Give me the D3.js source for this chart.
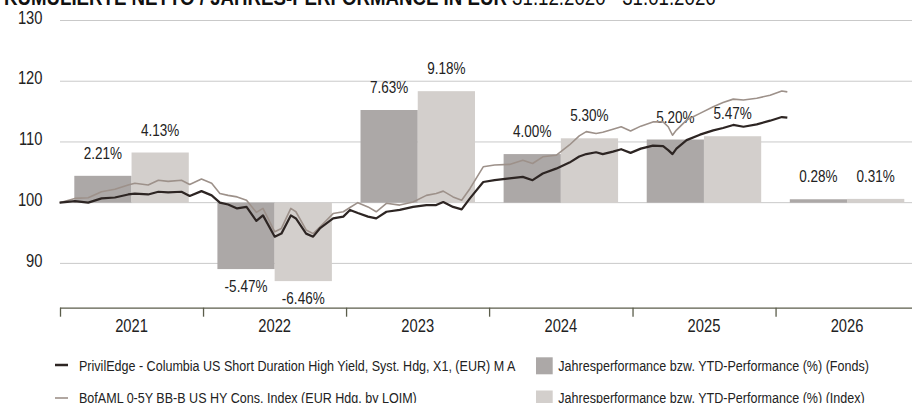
<!DOCTYPE html>
<html><head><meta charset="utf-8">
<script src="https://cdn.jsdelivr.net/npm/d3@7"></script>
<style>
html,body{margin:0;padding:0;background:#fff;}
svg{display:block;}
</style></head>
<body>
<svg id="chart" width="912" height="403"></svg>
<script>
// ---------- DATA ----------
const years = ["2021","2022","2023","2024","2025","2026"];
const fondsPerf = [2.21, -5.47, 7.63, 4.00, 5.20, 0.28];
const indexPerf = [4.13, -6.46, 9.18, 5.30, 5.47, 0.31];
const yTicks = [90, 100, 110, 120, 130];

const dates = [
"2020-12-31","2021-02-08","2021-03-14","2021-04-17","2021-05-21","2021-06-24","2021-07-11","2021-08-14",
"2021-09-09","2021-10-04","2021-11-07","2021-11-28","2021-12-28","2022-01-23","2022-02-13","2022-03-06",
"2022-03-29","2022-04-22","2022-05-17","2022-06-03","2022-07-03","2022-07-20","2022-08-13","2022-08-26",
"2022-09-21","2022-10-09","2022-10-26","2022-11-29","2022-12-25","2023-01-11","2023-01-31","2023-02-26",
"2023-03-19","2023-04-14","2023-05-18","2023-06-21","2023-07-25","2023-08-19","2023-09-06","2023-10-01",
"2023-10-23","2023-11-13","2023-12-17","2024-01-15","2024-02-22","2024-03-27","2024-04-21","2024-05-17",
"2024-06-20","2024-07-24","2024-08-18","2024-09-05","2024-09-30","2024-10-17","2024-11-12","2024-12-03",
"2024-12-27","2025-01-22","2025-02-22","2025-03-20","2025-04-02","2025-04-13","2025-04-23","2025-05-19",
"2025-06-22","2025-07-26","2025-08-20","2025-09-15","2025-10-11","2025-11-14","2025-12-18","2026-01-17",
"2026-01-31"];
const fondsValues = [
100.0,100.25,100.0,100.7,100.85,101.35,101.5,101.35,
101.8,101.7,101.8,101.1,101.9,101.2,100.0,99.7,
99.05,99.3,97.0,97.9,94.4,94.9,97.9,97.4,
94.9,94.4,95.75,97.4,97.7,98.8,98.3,97.7,
97.4,98.5,98.8,99.3,99.6,99.6,100.1,99.3,
98.9,100.7,103.4,103.7,104.0,104.25,103.7,104.8,
105.6,106.6,107.6,108.0,108.3,108.0,108.4,108.8,
108.2,108.9,109.4,109.3,108.65,108.0,108.9,110.3,
111.2,111.9,112.3,112.8,112.5,112.9,113.5,114.1,
114.0];
const indexValues = [
100.0,100.7,100.8,101.8,102.2,102.9,103.2,102.9,
103.7,103.5,103.7,103.0,103.9,103.2,101.5,101.2,
100.95,100.4,98.4,99.05,95.2,95.75,99.05,98.5,
95.5,94.9,96.0,98.2,98.5,99.2,100.0,99.3,
98.5,99.9,99.6,100.1,101.2,101.5,101.9,100.95,
100.4,102.3,105.9,106.2,106.3,107.0,106.45,107.55,
107.8,109.5,111.0,111.7,111.4,111.6,112.1,112.5,
111.8,112.6,113.3,113.3,112.5,111.1,111.95,113.6,
114.7,115.8,116.5,117.05,116.9,117.2,117.7,118.4,
118.25];

const legendLabels = [
  "PrivilEdge - Columbia US Short Duration High Yield, Syst. Hdg, X1, (EUR) M A",
  "BofAML 0-5Y BB-B US HY Cons. Index (EUR Hdg. by LOIM)",
  "Jahresperformance bzw. YTD-Performance (%) (Fonds)",
  "Jahresperformance bzw. YTD-Performance (%) (Index)"
];

// ---------- STYLE ----------
const C = {
  fundLine: "#2d2523", indexLine: "#9d918a",
  fundBar: "#aca8a7", indexBar: "#d3cfcc",
  grid: "#c9c9c9", axis: "#5b5d4b", text: "#222"
};
const FONT = "'Liberation Sans',Arial,Helvetica,sans-serif";
const NX = 0.82; // horizontal condensing (narrow face)
const narrowAt = (x, yy) => `translate(${x},${yy}) scale(${NX},1)`;

const svg = d3.select("#chart").attr("font-family", FONT);
const pLeft = 60, pRight = 912, pTop = 20.5, pBottom = 307.7;
const parse = d3.timeParse("%Y-%m-%d");

const y = d3.scaleLinear().domain([82.7, 130]).range([pBottom, pTop]);
// bars: secondary scale, 0% aligned to 100, 5% per 10 units
const yPerf = d3.scaleLinear().domain([(82.7-100)/2, 15]).range([pBottom, pTop]);

const xTime = d3.scaleTime().domain([parse("2021-01-01"), parse("2027-01-01")]).range([pLeft, 918.6]);
const x0 = d3.scaleBand().domain(years).range([pLeft, 918.6]).padding(0);
const x1 = d3.scaleBand().domain(["F","I"]).range([0, x0.bandwidth()]).paddingInner(0).paddingOuter(0.25);

// title
const title = svg.append("text").attr("transform", narrowAt(4, 4.5))
  .attr("font-size", 22.8).attr("fill", "#111");
title.append("tspan").attr("font-weight", "bold").text("KUMULIERTE NETTO / JAHRES-PERFORMANCE IN EUR ");
title.append("tspan").text("31.12.2020 - 31.01.2026");

// gridlines
svg.append("g").selectAll("line").data(yTicks).join("line")
  .attr("x1", pLeft).attr("x2", pRight)
  .attr("y1", d => y(d)).attr("y2", d => y(d))
  .attr("stroke", C.grid).attr("stroke-width", 1);

// y labels
svg.append("g").selectAll("text").data(yTicks).join("text")
  .attr("transform", d => narrowAt(42.5, y(d) + 3.2))
  .attr("text-anchor", "end").attr("font-size", 18)
  .attr("fill", C.text).text(d => d);

// bars
const barData = years.flatMap((yr, i) => [
  {year: yr, key: "F", v: fondsPerf[i]},
  {year: yr, key: "I", v: indexPerf[i]}
]);
svg.append("g").selectAll("rect").data(barData).join("rect")
  .attr("x", d => x0(d.year) + x1(d.key))
  .attr("width", x1.bandwidth())
  .attr("y", d => Math.min(yPerf(d.v), yPerf(0)))
  .attr("height", d => Math.abs(yPerf(d.v) - yPerf(0)))
  .attr("fill", d => d.key === "F" ? C.fundBar : C.indexBar);

// bar labels
svg.append("g").selectAll("text").data(barData).join("text")
  .attr("transform", d => narrowAt(x0(d.year) + x1(d.key) + x1.bandwidth()/2,
                                   d.v >= 0 ? yPerf(d.v) - 17 : yPerf(d.v) + 22.5))
  .attr("text-anchor", "middle").attr("font-size", 16.5)
  .attr("fill", C.text).text(d => d.v.toFixed(2) + "%");

// lines
const fundSeries = dates.map((d, i) => ({d: parse(d), v: fondsValues[i]}));
const indexSeries = dates.map((d, i) => ({d: parse(d), v: indexValues[i]}));
const line = d3.line().x(d => xTime(d.d)).y(d => y(d.v)).curve(d3.curveLinear);
svg.append("path").datum(indexSeries).attr("d", line)
  .attr("fill", "none").attr("stroke", C.indexLine).attr("stroke-width", 1.6).attr("stroke-linejoin", "round");
svg.append("path").datum(fundSeries).attr("d", line)
  .attr("fill", "none").attr("stroke", C.fundLine).attr("stroke-width", 2.2).attr("stroke-linejoin", "round");

// x axis
const xAxis = d3.axisBottom(xTime)
  .tickValues(years.map(yr => parse(yr + "-01-01")))
  .tickSize(9).tickSizeOuter(0).tickFormat("");
const gx = svg.append("g").attr("transform", `translate(0,${pBottom})`).call(xAxis);
gx.select(".domain").attr("stroke", C.axis).attr("stroke-width", 1.3)
  .attr("d", `M${pLeft},0.5H${pRight}`);
gx.selectAll(".tick line").attr("stroke", C.axis).attr("stroke-width", 1.3);

svg.append("g").selectAll("text").data(years).join("text")
  .attr("transform", d => narrowAt(x0(d) + x0.bandwidth()/2, 331.8))
  .attr("text-anchor", "middle").attr("font-size", 18)
  .attr("fill", C.text).text(d => d);

// legend
const lg = svg.append("g").attr("font-size", 15.3).attr("fill", C.text);
lg.append("line").attr("x1", 55).attr("x2", 68).attr("y1", 365).attr("y2", 365)
  .attr("stroke", C.fundLine).attr("stroke-width", 2.5);
lg.append("text").attr("transform", narrowAt(79, 370.5)).text(legendLabels[0]);
lg.append("line").attr("x1", 55).attr("x2", 68).attr("y1", 398).attr("y2", 398)
  .attr("stroke", C.indexLine).attr("stroke-width", 1.6);
lg.append("text").attr("transform", narrowAt(79, 402.5)).text(legendLabels[1]);
lg.append("rect").attr("x", 536).attr("y", 357.3).attr("width", 16.7).attr("height", 17).attr("fill", C.fundBar);
lg.append("text").attr("transform", narrowAt(558.3, 370.5)).text(legendLabels[2]);
lg.append("rect").attr("x", 536).attr("y", 390.5).attr("width", 16.7).attr("height", 17).attr("fill", C.indexBar);
lg.append("text").attr("transform", narrowAt(558.3, 402.5)).text(legendLabels[3]);
</script>
</body></html>
